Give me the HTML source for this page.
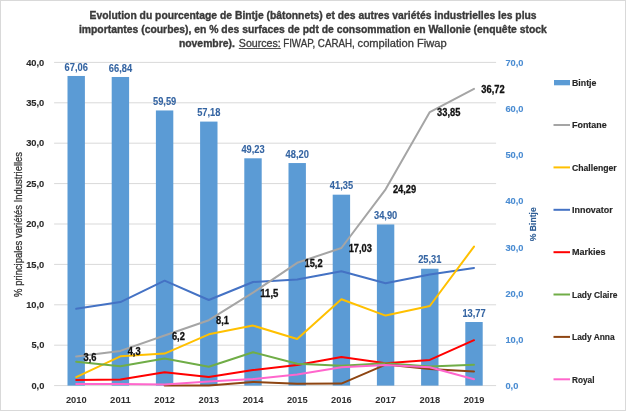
<!DOCTYPE html>
<html><head><meta charset="utf-8"><style>
html,body{margin:0;padding:0;background:#fff;}
svg{display:block;will-change:transform;}
text{font-family:"Liberation Sans",sans-serif;}
</style></head><body>
<svg width="626" height="411" viewBox="0 0 626 411">
<rect x="0.5" y="0.5" width="625" height="410" fill="#fff" stroke="#d9d9d9" stroke-width="1"/>

<g fill="#3a3a3a" stroke="#3a3a3a" stroke-width="0.35" font-size="10.6" font-weight="bold">
<text x="89.6" y="18.7" textLength="447" lengthAdjust="spacingAndGlyphs">Evolution du pourcentage de Bintje (bâtonnets) et des autres variétés industrielles les plus</text>
<text x="78.9" y="32.7" textLength="468" lengthAdjust="spacingAndGlyphs">importantes (courbes), en % des surfaces de pdt de consommation en Wallonie (enquête stock</text>
<text x="178.9" y="46.7" textLength="56" lengthAdjust="spacingAndGlyphs">novembre).</text>
</g>
<g fill="#3a3a3a" stroke="#3a3a3a" stroke-width="0.3" font-size="10.6">
<text x="238.8" y="46.7" textLength="42" lengthAdjust="spacingAndGlyphs">Sources:</text>
<text x="283.2" y="46.7" textLength="71.5" lengthAdjust="spacingAndGlyphs">FIWAP, CARAH,</text><text x="357.6" y="46.7" textLength="89" lengthAdjust="spacingAndGlyphs">compilation Fiwap</text>
</g>
<rect x="238.8" y="48.0" width="42" height="0.9" fill="#404040"/>
<g stroke="#d9d9d9" stroke-width="1">
<line x1="54.1" y1="385.60" x2="496.1" y2="385.60"/>
<line x1="54.1" y1="345.20" x2="496.1" y2="345.20"/>
<line x1="54.1" y1="304.80" x2="496.1" y2="304.80"/>
<line x1="54.1" y1="264.40" x2="496.1" y2="264.40"/>
<line x1="54.1" y1="224.00" x2="496.1" y2="224.00"/>
<line x1="54.1" y1="183.60" x2="496.1" y2="183.60"/>
<line x1="54.1" y1="143.20" x2="496.1" y2="143.20"/>
<line x1="54.1" y1="102.80" x2="496.1" y2="102.80"/>
<line x1="54.1" y1="62.40" x2="496.1" y2="62.40"/>
</g>
<g fill="#5B9BD5">
<rect x="67.50" y="75.97" width="17.4" height="309.63"/>
<rect x="111.70" y="76.99" width="17.4" height="308.61"/>
<rect x="155.90" y="110.46" width="17.4" height="275.14"/>
<rect x="200.10" y="121.59" width="17.4" height="264.01"/>
<rect x="244.30" y="158.30" width="17.4" height="227.30"/>
<rect x="288.50" y="163.05" width="17.4" height="222.55"/>
<rect x="332.70" y="194.68" width="17.4" height="190.92"/>
<rect x="376.90" y="224.46" width="17.4" height="161.14"/>
<rect x="421.10" y="268.74" width="17.4" height="116.86"/>
<rect x="465.30" y="322.02" width="17.4" height="63.58"/>
</g>
<polyline points="76.2,308.8 120.4,302.1 164.6,280.7 208.8,300.0 253.0,282.0 297.2,279.5 341.4,271.3 385.6,283.3 429.8,274.4 474.0,268.0" fill="none" stroke="#4472C4" stroke-width="2.0" stroke-linejoin="round" stroke-linecap="round"/>
<polyline points="76.2,356.5 120.4,350.9 164.6,335.5 208.8,320.2 253.0,292.7 297.2,262.8 341.4,248.0 385.6,189.3 429.8,112.1 474.0,88.9" fill="none" stroke="#A5A5A5" stroke-width="2.0" stroke-linejoin="round" stroke-linecap="round"/>
<polyline points="76.2,377.1 120.4,356.3 164.6,353.6 208.8,334.3 253.0,325.6 297.2,339.0 341.4,299.2 385.6,315.6 429.8,306.0 474.0,246.6" fill="none" stroke="#FFC000" stroke-width="2.0" stroke-linejoin="round" stroke-linecap="round"/>
<polyline points="76.2,380.0 120.4,379.5 164.6,372.3 208.8,376.9 253.0,370.0 297.2,364.9 341.4,357.1 385.6,363.3 429.8,359.9 474.0,340.2" fill="none" stroke="#FF0000" stroke-width="2.0" stroke-linejoin="round" stroke-linecap="round"/>
<polyline points="76.2,361.7 120.4,366.2 164.6,358.4 208.8,366.8 253.0,352.3 297.2,363.7 341.4,365.8 385.6,363.3 429.8,366.4 474.0,364.7" fill="none" stroke="#70AD47" stroke-width="2.0" stroke-linejoin="round" stroke-linecap="round"/>
<polyline points="164.6,385.6 208.8,385.6 253.0,382.0 297.2,383.8 341.4,383.6 385.6,364.6 429.8,369.1 474.0,371.5" fill="none" stroke="#8E4512" stroke-width="2.0" stroke-linejoin="round" stroke-linecap="round"/>
<polyline points="76.2,384.0 120.4,384.0 164.6,384.6 208.8,381.6 253.0,379.1 297.2,374.4 341.4,367.3 385.6,365.0 429.8,367.3 474.0,379.3" fill="none" stroke="#FF66CC" stroke-width="2.0" stroke-linejoin="round" stroke-linecap="round"/>
<g fill="#3464A2" stroke="#3464A2" stroke-width="0.1" font-size="10.5" font-weight="bold">
<text x="64.6" y="70.5" textLength="23.27" lengthAdjust="spacingAndGlyphs">67,06</text>
<text x="108.8" y="71.5" textLength="23.27" lengthAdjust="spacingAndGlyphs">66,84</text>
<text x="153.0" y="105.0" textLength="23.27" lengthAdjust="spacingAndGlyphs">59,59</text>
<text x="197.2" y="116.1" textLength="23.27" lengthAdjust="spacingAndGlyphs">57,18</text>
<text x="241.4" y="152.8" textLength="23.27" lengthAdjust="spacingAndGlyphs">49,23</text>
<text x="285.6" y="157.6" textLength="23.27" lengthAdjust="spacingAndGlyphs">48,20</text>
<text x="329.8" y="189.2" textLength="23.27" lengthAdjust="spacingAndGlyphs">41,35</text>
<text x="374.0" y="219.0" textLength="23.27" lengthAdjust="spacingAndGlyphs">34,90</text>
<text x="418.2" y="263.2" textLength="23.27" lengthAdjust="spacingAndGlyphs">25,31</text>
<text x="462.4" y="316.5" textLength="23.27" lengthAdjust="spacingAndGlyphs">13,77</text>
</g>
<g fill="#111" stroke="#111" stroke-width="0.3" font-size="10.3" font-weight="bold">
<text x="83.5" y="360.5" textLength="12.93" lengthAdjust="spacingAndGlyphs">3,6</text>
<text x="127.7" y="354.9" textLength="12.93" lengthAdjust="spacingAndGlyphs">4,3</text>
<text x="171.9" y="339.5" textLength="12.93" lengthAdjust="spacingAndGlyphs">6,2</text>
<text x="216.1" y="324.2" textLength="12.93" lengthAdjust="spacingAndGlyphs">8,1</text>
<text x="260.3" y="296.7" textLength="18.10" lengthAdjust="spacingAndGlyphs">11,5</text>
<text x="304.5" y="266.8" textLength="18.10" lengthAdjust="spacingAndGlyphs">15,2</text>
<text x="348.7" y="252.0" textLength="23.27" lengthAdjust="spacingAndGlyphs">17,03</text>
<text x="392.9" y="193.3" textLength="23.27" lengthAdjust="spacingAndGlyphs">24,29</text>
<text x="437.1" y="116.1" textLength="23.27" lengthAdjust="spacingAndGlyphs">33,85</text>
<text x="481.3" y="92.9" textLength="23.27" lengthAdjust="spacingAndGlyphs">36,72</text>
</g>
<g fill="#2a2a2a" stroke="#2a2a2a" stroke-width="0.12" font-size="9.9" font-weight="bold">
<text x="31.4" y="388.7" textLength="12.93" lengthAdjust="spacingAndGlyphs">0,0</text>
<text x="31.4" y="348.3" textLength="12.93" lengthAdjust="spacingAndGlyphs">5,0</text>
<text x="26.2" y="307.9" textLength="18.10" lengthAdjust="spacingAndGlyphs">10,0</text>
<text x="26.2" y="267.5" textLength="18.10" lengthAdjust="spacingAndGlyphs">15,0</text>
<text x="26.2" y="227.1" textLength="18.10" lengthAdjust="spacingAndGlyphs">20,0</text>
<text x="26.2" y="186.7" textLength="18.10" lengthAdjust="spacingAndGlyphs">25,0</text>
<text x="26.2" y="146.3" textLength="18.10" lengthAdjust="spacingAndGlyphs">30,0</text>
<text x="26.2" y="105.9" textLength="18.10" lengthAdjust="spacingAndGlyphs">35,0</text>
<text x="26.2" y="65.5" textLength="18.10" lengthAdjust="spacingAndGlyphs">40,0</text>
</g>
<g fill="#4A8CD2" stroke="#4A8CD2" stroke-width="0.1" font-size="9.9" font-weight="bold">
<text x="505.4" y="389.0" textLength="12.93" lengthAdjust="spacingAndGlyphs">0,0</text>
<text x="505.4" y="342.8" textLength="18.10" lengthAdjust="spacingAndGlyphs">10,0</text>
<text x="505.4" y="296.7" textLength="18.10" lengthAdjust="spacingAndGlyphs">20,0</text>
<text x="505.4" y="250.5" textLength="18.10" lengthAdjust="spacingAndGlyphs">30,0</text>
<text x="505.4" y="204.3" textLength="18.10" lengthAdjust="spacingAndGlyphs">40,0</text>
<text x="505.4" y="158.1" textLength="18.10" lengthAdjust="spacingAndGlyphs">50,0</text>
<text x="505.4" y="112.0" textLength="18.10" lengthAdjust="spacingAndGlyphs">60,0</text>
<text x="505.4" y="65.8" textLength="18.10" lengthAdjust="spacingAndGlyphs">70,0</text>
</g>
<g fill="#303030" font-size="9.9" font-weight="bold">
<text x="65.9" y="402.5" textLength="20.68" lengthAdjust="spacingAndGlyphs">2010</text>
<text x="110.1" y="402.5" textLength="20.68" lengthAdjust="spacingAndGlyphs">2011</text>
<text x="154.3" y="402.5" textLength="20.68" lengthAdjust="spacingAndGlyphs">2012</text>
<text x="198.5" y="402.5" textLength="20.68" lengthAdjust="spacingAndGlyphs">2013</text>
<text x="242.7" y="402.5" textLength="20.68" lengthAdjust="spacingAndGlyphs">2014</text>
<text x="286.9" y="402.5" textLength="20.68" lengthAdjust="spacingAndGlyphs">2015</text>
<text x="331.1" y="402.5" textLength="20.68" lengthAdjust="spacingAndGlyphs">2016</text>
<text x="375.3" y="402.5" textLength="20.68" lengthAdjust="spacingAndGlyphs">2017</text>
<text x="419.5" y="402.5" textLength="20.68" lengthAdjust="spacingAndGlyphs">2018</text>
<text x="463.7" y="402.5" textLength="20.68" lengthAdjust="spacingAndGlyphs">2019</text>
</g>
<text transform="translate(22.3,224.4) rotate(-90)" text-anchor="middle" fill="#303030" stroke="#303030" stroke-width="0.25" font-size="10.2" textLength="145" lengthAdjust="spacingAndGlyphs">% principales variétés Industrielles</text>
<text transform="translate(535.8,224.2) rotate(-90)" text-anchor="middle" fill="#2F5E96" stroke="#2F5E96" stroke-width="0.15" font-size="9" font-weight="bold" textLength="34" lengthAdjust="spacingAndGlyphs">% Bintje</text>
<g font-size="9.3" font-weight="bold" fill="#262626" stroke="#262626" stroke-width="0.15">
<rect x="554" y="80.0" width="16" height="5.3" fill="#5B9BD5" stroke="none"/>
<text x="572" y="85.8" textLength="24.4" lengthAdjust="spacingAndGlyphs">Bintje</text>
<line x1="553.5" y1="125.0" x2="570" y2="125.0" stroke="#A5A5A5" stroke-width="2.0"/>
<text x="572" y="128.2" textLength="34.7" lengthAdjust="spacingAndGlyphs">Fontane</text>
<line x1="553.5" y1="167.4" x2="570" y2="167.4" stroke="#FFC000" stroke-width="2.0"/>
<text x="572" y="170.6" textLength="44.7" lengthAdjust="spacingAndGlyphs">Challenger</text>
<line x1="553.5" y1="209.8" x2="570" y2="209.8" stroke="#4472C4" stroke-width="2.0"/>
<text x="572" y="213.0" textLength="40.7" lengthAdjust="spacingAndGlyphs">Innovator</text>
<line x1="553.5" y1="252.2" x2="570" y2="252.2" stroke="#FF0000" stroke-width="2.0"/>
<text x="572" y="255.4" textLength="33.6" lengthAdjust="spacingAndGlyphs">Markies</text>
<line x1="553.5" y1="294.5" x2="570" y2="294.5" stroke="#70AD47" stroke-width="2.0"/>
<text x="572" y="297.7" textLength="45.4" lengthAdjust="spacingAndGlyphs">Lady Claire</text>
<line x1="553.5" y1="336.9" x2="570" y2="336.9" stroke="#8E4512" stroke-width="2.0"/>
<text x="572" y="340.1" textLength="42.7" lengthAdjust="spacingAndGlyphs">Lady Anna</text>
<line x1="553.5" y1="379.3" x2="570" y2="379.3" stroke="#FF66CC" stroke-width="2.0"/>
<text x="572" y="382.5" textLength="22.5" lengthAdjust="spacingAndGlyphs">Royal</text>
</g>
</svg></body></html>
